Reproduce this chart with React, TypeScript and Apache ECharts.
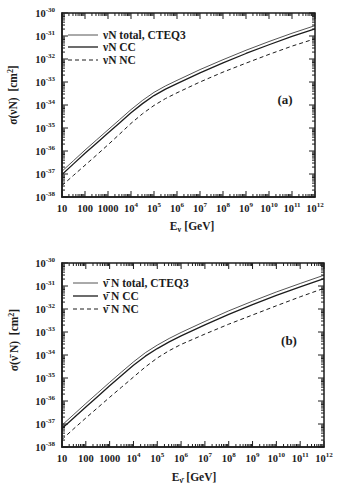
import React, { useEffect, useRef } from "react";
import * as echarts from "echarts";

// log10(E / GeV)
const logE = [1, 1.5, 2, 2.5, 3, 3.5, 4, 4.5, 5, 5.5, 6, 7, 8, 9, 10, 11, 12];

// panel (a): log10(sigma / cm^2), neutrino
const aTotal = [-36.88, -36.42, -35.96, -35.52, -35.08, -34.64, -34.2, -33.8, -33.45, -33.17, -32.93, -32.46, -32.03, -31.62, -31.24, -30.88, -30.55];
const aCC = [-37.02, -36.56, -36.1, -35.66, -35.22, -34.78, -34.34, -33.94, -33.59, -33.31, -33.07, -32.6, -32.17, -31.76, -31.38, -31.02, -30.69];
const aNC = [-37.5, -37.06, -36.62, -36.18, -35.73, -35.27, -34.8, -34.38, -34.02, -33.72, -33.47, -33.0, -32.57, -32.18, -31.8, -31.44, -31.12];

// panel (b): antineutrino
const bTotal = [-37.05, -36.58, -36.11, -35.65, -35.19, -34.74, -34.3, -33.9, -33.57, -33.28, -33.02, -32.54, -32.08, -31.66, -31.26, -30.89, -30.53];
const bCC = [-37.2, -36.73, -36.26, -35.8, -35.34, -34.89, -34.45, -34.05, -33.72, -33.43, -33.17, -32.69, -32.23, -31.81, -31.41, -31.04, -30.68];
const bNC = [-37.67, -37.2, -36.74, -36.29, -35.84, -35.4, -34.96, -34.52, -34.13, -33.81, -33.54, -33.09, -32.66, -32.26, -31.86, -31.47, -31.1];

const xTickLabels: Record<number, string> = {
  1: "10", 2: "100", 3: "1000", 4: "10^4", 5: "10^5", 6: "10^6", 7: "10^7",
  8: "10^8", 9: "10^9", 10: "10^10", 11: "10^11", 12: "10^12",
};
const yTickExps = [-38, -37, -36, -35, -34, -33, -32, -31, -30];

const namesA = ["\u03bdN total, CTEQ3", "\u03bdN CC", "\u03bdN NC"];
const namesB = ["\u03bd\u0304 N total, CTEQ3", "\u03bd\u0304 N CC", "\u03bd\u0304 N NC"];

const FONT = "Liberation Serif";
const INK = "#1c1c1c";

const rich = {
  b: { fontSize: 10.5, fontWeight: "bold", fontFamily: FONT, color: INK, lineHeight: 14 },
  s: { fontSize: 7, fontWeight: "bold", fontFamily: FONT, color: INK, lineHeight: 14, padding: [0, 0, 7, 0] },
};

function xFmt(v: number) {
  const n = Math.round(v);
  const t = xTickLabels[n] || "";
  if (t.indexOf("^") >= 0) {
    const [base, ex] = t.split("^");
    return `{b|${base}}{s|${ex}}`;
  }
  return `{b|${t}}`;
}
function yFmt(v: number) {
  const n = Math.round(v);
  if (yTickExps.indexOf(n) < 0) return "";
  return `{b|10}{s|${n}}`;
}

function ticksSeries(idx: number) {
  return {
    type: "custom",
    xAxisIndex: idx,
    yAxisIndex: idx,
    silent: true,
    clip: false,
    data: [[1, -38]],
    renderItem: (params: any, api: any) => {
      const cs = params.coordSys;
      const top = cs.y, bottom = cs.y + cs.height, left = cs.x, right = cs.x + cs.width;
      const children: any[] = [];
      const st = { stroke: INK, lineWidth: 1 };
      for (let n = 1; n <= 12; n++) {
        for (let m = 1; m <= 9; m++) {
          const e = n + Math.log10(m);
          if (e > 12.0001) break;
          const len = m === 1 ? 6 : 3;
          const px = api.coord([e, -38])[0];
          children.push({ type: "line", shape: { x1: px, y1: bottom, x2: px, y2: bottom - len }, style: st });
          children.push({ type: "line", shape: { x1: px, y1: top, x2: px, y2: top + len }, style: st });
        }
      }
      for (let n = -38; n <= -30; n++) {
        for (let m = 1; m <= 9; m++) {
          const e = n + Math.log10(m);
          if (e > -29.999) break;
          const len = m === 1 ? 6 : 3;
          const py = api.coord([1, e])[1];
          children.push({ type: "line", shape: { x1: left, y1: py, x2: left + len, y2: py }, style: st });
          children.push({ type: "line", shape: { x1: right, y1: py, x2: right - len, y2: py }, style: st });
        }
      }
      return { type: "group", children };
    },
  };
}

const styleOf = (kind: string) => ({
  color: INK,
  width: kind === "cc" ? 1.3 : 1,
  type: kind === "nc" ? [4, 3] : "solid",
  opacity: kind === "total" ? 0.75 : 1,
});

function lineSeries(name: string, ys: number[], idx: number, kind: "total" | "cc" | "nc") {
  return {
    type: "line",
    name,
    xAxisIndex: idx,
    yAxisIndex: idx,
    data: logE.map((e, i) => [e, ys[i]]),
    showSymbol: false,
    symbol: "none",
    smooth: false,
    lineStyle: styleOf(kind),
    itemStyle: { color: INK },
  };
}

function xAxis(idx: number) {
  return {
    type: "value",
    gridIndex: idx,
    min: 1,
    max: 12,
    interval: 1,
    axisLine: { show: true, lineStyle: { color: INK, width: 1.5 } },
    axisTick: { show: false },
    splitLine: { show: false },
    axisLabel: { formatter: xFmt, rich, margin: 4 },
  };
}
function yAxis(idx: number) {
  return {
    type: "value",
    gridIndex: idx,
    min: -38,
    max: -30,
    interval: 1,
    axisLine: { show: true, lineStyle: { color: INK, width: 1.5 } },
    axisTick: { show: false },
    splitLine: { show: false },
    axisLabel: { formatter: yFmt, rich, margin: 7 },
  };
}

const LEGEND_FONT = `bold 11.5px "${FONT}"`;
const kinds = ["total", "cc", "nc"];

function legendGraphics(names: string[], x1: number, x2: number, ys: number[]) {
  const out: any[] = [];
  names.forEach((nm, i) => {
    const ls = styleOf(kinds[i]);
    out.push({
      type: "line",
      shape: { x1, y1: ys[i], x2, y2: ys[i] },
      style: { stroke: INK, lineWidth: ls.width, lineDash: kinds[i] === "nc" ? [4, 3] : null, opacity: ls.opacity },
    });
    out.push({
      type: "text",
      x: x2 + 5,
      y: ys[i],
      style: { text: nm, font: LEGEND_FONT, fill: INK, align: "left", verticalAlign: "middle" },
    });
  });
  return out;
}

export default function App() {
  const ref = useRef<HTMLDivElement>(null);
  useEffect(() => {
    if (!ref.current) return;
    const chart = echarts.init(ref.current, null, { renderer: "svg" });
    const titleRich = {
      m: { fontSize: 11.5, fontWeight: "bold", fontFamily: FONT, fill: INK, color: INK },
      sub: { fontSize: 8, fontWeight: "bold", fontFamily: FONT, fill: INK, color: INK, padding: [6, 0, 0, 0] },
      sup: { fontSize: 8, fontWeight: "bold", fontFamily: FONT, fill: INK, color: INK, padding: [0, 0, 6, 0] },
    };
    chart.setOption({
      animation: false,
      backgroundColor: "#ffffff",
      grid: [
        { left: 62, top: 13, width: 253, height: 184, show: true, borderColor: INK, borderWidth: 1.5 },
        { left: 62, top: 263, width: 262, height: 184, show: true, borderColor: INK, borderWidth: 1.5 },
      ],
      xAxis: [xAxis(0), xAxis(1)],
      yAxis: [yAxis(0), yAxis(1)],
      graphic: [
        ...legendGraphics(namesA, 68, 98, [35, 47, 60]),
        ...legendGraphics(namesB, 73, 98, [283, 296, 309]),
        { type: "text", x: 285, y: 99, style: { text: "(a)", font: `bold 13px "${FONT}"`, fill: INK, align: "center", verticalAlign: "middle" } },
        { type: "text", x: 289, y: 340, style: { text: "(b)", font: `bold 13px "${FONT}"`, fill: INK, align: "center", verticalAlign: "middle" } },
        { type: "text", x: 192, y: 226, style: { text: "{m|E}{sub|\u03bd} {m|[GeV]}", rich: titleRich, align: "center", verticalAlign: "middle" } },
        { type: "text", x: 194, y: 477, style: { text: "{m|E}{sub|\u03bd\u0304} {m|[GeV]}", rich: titleRich, align: "center", verticalAlign: "middle" } },
        { type: "text", x: 13, y: 95, rotation: Math.PI / 2, style: { text: "{m|\u03c3(\u03bdN)  [cm}{sup|2}{m|]}", rich: titleRich, align: "center", verticalAlign: "middle" } },
        { type: "text", x: 14, y: 340, rotation: Math.PI / 2, style: { text: "{m|\u03c3(\u03bd\u0304 N)  [cm}{sup|2}{m|]}", rich: titleRich, align: "center", verticalAlign: "middle" } },
      ],
      series: [
        lineSeries(namesA[0], aTotal, 0, "total"),
        lineSeries(namesA[1], aCC, 0, "cc"),
        lineSeries(namesA[2], aNC, 0, "nc"),
        lineSeries(namesB[0], bTotal, 1, "total"),
        lineSeries(namesB[1], bCC, 1, "cc"),
        lineSeries(namesB[2], bNC, 1, "nc"),
        ticksSeries(0),
        ticksSeries(1),
      ],
    });
    return () => chart.dispose();
  }, []);
  return (
    <div
      ref={ref}
      style={{ position: "fixed", left: 0, top: 0, width: 344, height: 485, background: "#fff" }}
    />
  );
}
